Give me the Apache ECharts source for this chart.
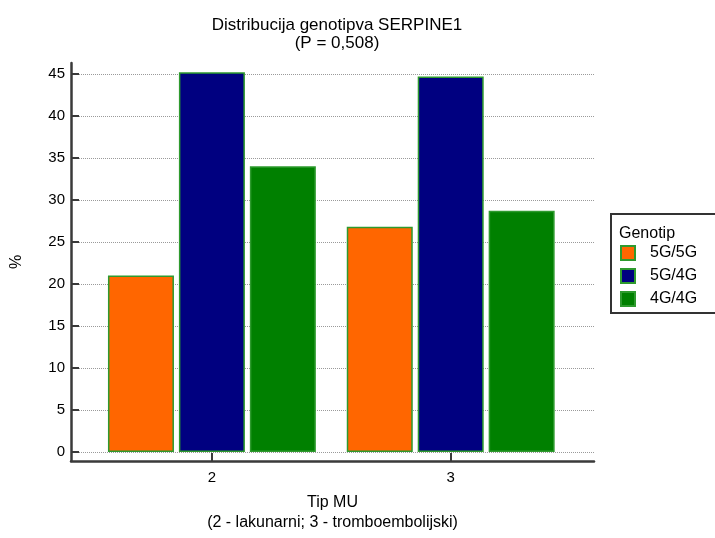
<!DOCTYPE html>
<html>
<head>
<meta charset="utf-8">
<script src="https://cdn.jsdelivr.net/npm/echarts@6/dist/echarts.min.js"></script>
<style>
html,body{margin:0;padding:0;background:#fff;}
#chart{width:715px;height:538px;}
</style>
</head>
<body>
<div id="chart"></div>
<script>
// Data
const categories = [2, 3];
const seriesNames = ['5G/5G', '5G/4G', '4G/4G'];
const val5G5G = [21.0, 26.8];
const val5G4G = [45.2, 44.7];
const val4G4G = [34.0, 28.7];
const yTicks = [0, 5, 10, 15, 20, 25, 30, 35, 40, 45];

const colors = ['#FF6600', '#000080', '#008000'];
const seriesValues = [val5G5G, val5G4G, val4G4G];
const FONT = '"Liberation Sans", Arial, sans-serif';

const chart = echarts.init(document.getElementById('chart'), null, {renderer: 'canvas'});

const series = seriesNames.map((name, i) => ({
  name: name,
  type: 'bar',
  barWidth: 66,
  barGap: '7.5%',
  data: categories.map((c, j) => [c, seriesValues[i][j]]),
  itemStyle: {color: colors[i], borderColor: '#2E9A2E', borderWidth: 1.5},
  emphasis: {disabled: true}
}));

chart.setOption({
  animation: false,
  backgroundColor: '#fff',
  textStyle: {fontFamily: FONT},
  title: [
    {
      text: 'Distribucija genotipva SERPINE1\n(P = 0,508)',
      left: 332, top: 11, textAlign: 'center',
      textStyle: {fontFamily: FONT, fontSize: 17, fontWeight: 'normal', color: '#000', lineHeight: 18}
    },
    {
      text: 'Genotip',
      left: 614, top: 221,
      textStyle: {fontFamily: FONT, fontSize: 16, fontWeight: 'normal', color: '#000'}
    }
  ],
  legend: {
    orient: 'vertical',
    left: 611, top: 214,
    borderColor: '#333', borderWidth: 2,
    padding: [31, 70, 6, 9],
    itemWidth: 14, itemHeight: 14, itemGap: 7,
    icon: 'rect',
    textStyle: {fontFamily: FONT, fontSize: 16, color: '#000', padding: [0, 0, 0, 10]},
    data: seriesNames
  },
  grid: {left: 71, right: 121, top: 63, bottom: 75, containLabel: false},
  xAxis: {
    type: 'value',
    min: 1.41, max: 3.6,
    name: 'Tip MU\n(2 - lakunarni; 3 - tromboembolijski)',
    nameLocation: 'middle',
    nameGap: 32,
    nameTextStyle: {fontFamily: FONT, fontSize: 16, color: '#000', lineHeight: 20},
    axisLine: {onZero: false, lineStyle: {color: '#3a3a3a', width: 2.5}},
    axisTick: {show: true, inside: true, length: 8, customValues: categories, lineStyle: {color: '#3a3a3a', width: 2}},
    axisLabel: {customValues: categories, margin: 9, fontFamily: FONT, fontSize: 15, color: '#000'},
    splitLine: {show: false}
  },
  yAxis: {
    type: 'value',
    min: -1.07, max: 46.3,
    name: '%',
    nameLocation: 'middle',
    nameGap: 46,
    nameTextStyle: {fontFamily: FONT, fontSize: 16, color: '#000'},
    axisLine: {show: true, onZero: false, lineStyle: {color: '#3a3a3a', width: 2.5}},
    axisTick: {show: true, inside: true, length: 8, customValues: yTicks, lineStyle: {color: '#3a3a3a', width: 2}},
    axisLabel: {customValues: yTicks, margin: 6, fontFamily: FONT, fontSize: 15, color: '#000'},
    splitLine: {show: true, lineStyle: {color: '#9a9a9a', width: 1, type: [1, 1]}}
  },
  series: series
});
</script>
</body>
</html>
